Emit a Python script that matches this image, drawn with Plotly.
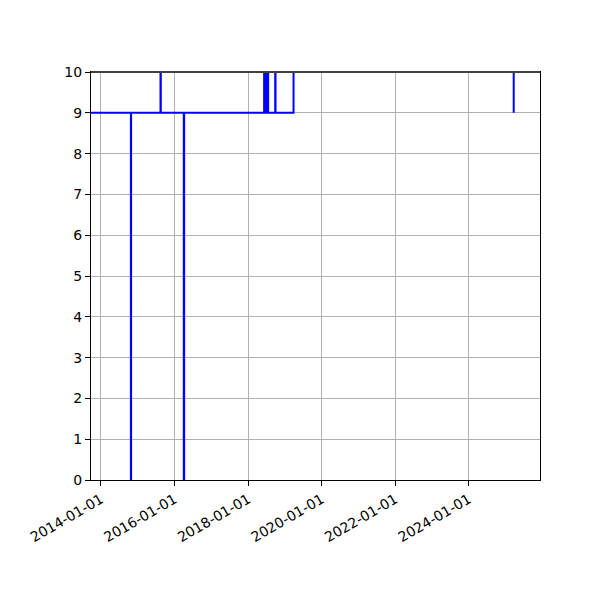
import plotly.graph_objects as go

# step series: value holds from each date until the next one
change_dates = [
    "2013-09-01", "2014-10-25", "2014-10-27",
    "2015-08-15", "2015-08-18",
    "2016-04-02", "2016-04-06",
    "2018-06-09", "2018-06-12", "2018-06-17", "2018-06-20",
    "2018-06-25", "2018-06-28", "2018-07-03", "2018-07-06",
    "2018-07-10", "2018-07-13", "2018-07-16", "2018-07-19",
    "2018-09-27", "2018-09-30",
    "2019-03-28", "2025-03-22",
]
levels = [
    9, 0, 9,
    10, 9,
    0, 9,
    10, 9, 10, 9,
    10, 9, 10, 9,
    10, 9, 10, 9,
    10, 9,
    10, 9,
]

tick_dates = ["2014-01-01", "2016-01-01", "2018-01-01",
              "2020-01-01", "2022-01-01", "2024-01-01"]

fig = go.Figure()
fig.add_trace(go.Scatter(
    x=change_dates,
    y=levels,
    mode="lines",
    line=dict(color="#0000ff", width=2, shape="hv"),
    showlegend=False,
))

axis_style = dict(
    showline=True, mirror=True, linecolor="black", linewidth=1,
    showgrid=True, gridcolor="#b0b0b0", gridwidth=1,
    zeroline=False, ticks="outside", ticklen=5, tickcolor="black",
    tickfont=dict(family="DejaVu Sans", size=14, color="black"),
)

# matplotlib hides the segments lying on the top spine; mimic that
fig.add_shape(type="line", xref="paper", yref="paper", x0=0, x1=1, y0=1, y1=1,
              line=dict(color="white", width=2), layer="above")
fig.add_shape(type="line", xref="paper", yref="paper", x0=0, x1=1, y0=1, y1=1,
              line=dict(color="black", width=1.5), layer="above")

fig.update_layout(
    width=600, height=600,
    margin=dict(l=83, r=68, t=64, b=128),
    paper_bgcolor="white", plot_bgcolor="white",
    xaxis=dict(
        range=["2013-09-24", "2025-12-08"],
        tickmode="array", tickvals=tick_dates, ticktext=tick_dates,
        tickangle=-30,
        **axis_style,
    ),
    yaxis=dict(range=[0, 10], dtick=1, **axis_style),
)

fig.write_html("out.html")
